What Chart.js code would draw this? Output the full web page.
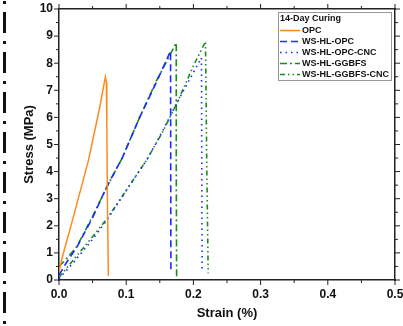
<!DOCTYPE html>
<html lang="en">
<head>
    <meta charset="UTF-8">
    <title>Stress-Strain 14-Day Curing</title>
    <script src="https://cdn.jsdelivr.net/npm/chart.js"></script>
    <style>
        body {
            margin: 0;
            background: white;
        }
        .wrap {
            position: relative;
            width: 403px;
            height: 326px;
        }
        /* dash-dot strip on the left edge */
        .strip {
            position: absolute;
            left: 3px;
            top: 0;
            width: 3px;
            height: 326px;
            background: repeating-linear-gradient(to bottom,
                transparent 0 1px, #111 1px 4px, transparent 4px 12px,
                #111 12px 33px, transparent 33px 40px);
        }
    </style>
</head>
<body>
<div class="wrap">
    <div class="strip"></div>
    <canvas id="stressChart" width="403" height="326"></canvas>
</div>

<script>
    // tick labels
    const xTicks = [0, 0.1, 0.2, 0.3, 0.4, 0.5];
    const yTicks = [0, 1, 2, 3, 4, 5, 6, 7, 8, 9, 10];

    // series (strain %, stress MPa)
    const opcStrain = [0, 0.005, 0.02, 0.044, 0.06, 0.069, 0.0705, 0.0712, 0.072, 0.0735];
    const opcStress = [0.3, 0.85, 2.2, 4.43, 6.3, 7.5, 7.3, 5.7, 3.0, 0.15];

    const hlOpcStrain = [0, 0.01, 0.027, 0.05, 0.071, 0.094, 0.12, 0.145, 0.166, 0.1662, 0.1665];
    const hlOpcStress = [0.18, 0.6, 1.23, 2.3, 3.44, 4.5, 6.0, 7.3, 8.45, 5.0, 0.3];

    const hlOpcCncStrain = [0, 0.02, 0.05, 0.071, 0.1, 0.131, 0.15, 0.17, 0.19, 0.212, 0.2125, 0.213];
    const hlOpcCncStress = [0.05, 0.6, 1.5, 2.2, 3.3, 4.45, 5.3, 6.27, 7.2, 8.2, 4.0, 0.3];

    const hlGgbfsStrain = [0, 0.01, 0.027, 0.05, 0.071, 0.094, 0.12, 0.145, 0.1745, 0.1745, 0.175];
    const hlGgbfsStress = [0.5, 0.75, 1.25, 2.35, 3.42, 4.5, 6.0, 7.35, 8.75, 4.0, 0.1];

    const hlGgbfsCncStrain = [0, 0.02, 0.05, 0.071, 0.1, 0.131, 0.155, 0.175, 0.2, 0.218, 0.22, 0.222];
    const hlGgbfsCncStress = [0.1, 0.7, 1.6, 2.25, 3.3, 4.45, 5.5, 6.5, 7.9, 8.8, 4.0, 0.25];

    const pts = (xs, ys) => xs.map((v, i) => ({ x: v, y: ys[i] }));

    const FONT = "'Liberation Sans', Arial, sans-serif";

    // fixed box sizes, no extra label padding around the plot
    const fixSize = (w, h) => s => {
        if (w != null) s.width = w;
        if (h != null) s.height = h;
        s.paddingLeft = s.paddingRight = s.paddingTop = s.paddingBottom = 0;
    };

    // outward major/minor ticks on all four sides
    const tickMarks = {
        id: 'tickMarks',
        afterDraw(chart) {
            const { ctx, chartArea: a, scales: { x, y } } = chart;
            ctx.save();
            ctx.strokeStyle = '#222';
            ctx.lineWidth = 1;
            const seg = (x1, y1, x2, y2) => {
                ctx.beginPath(); ctx.moveTo(x1, y1); ctx.lineTo(x2, y2); ctx.stroke();
            };
            xTicks.forEach((v, i) => {
                const px = x.getPixelForValue(v);
                seg(px, a.bottom, px, a.bottom + 5);
                seg(px, a.top, px, a.top - 5);
                if (i < xTicks.length - 1) {
                    const mx = x.getPixelForValue((v + xTicks[i + 1]) / 2);
                    seg(mx, a.bottom, mx, a.bottom + 3);
                    seg(mx, a.top, mx, a.top - 3);
                }
            });
            yTicks.forEach((v, i) => {
                const py = y.getPixelForValue(v);
                seg(a.left, py, a.left - 5, py);
                seg(a.right, py, a.right + 5, py);
                if (i < yTicks.length - 1) {
                    const my = y.getPixelForValue((v + yTicks[i + 1]) / 2);
                    seg(a.left, my, a.left - 3, my);
                    seg(a.right, my, a.right + 3, my);
                }
            });
            ctx.restore();
        }
    };

    // boxed legend with title, top right
    const boxLegend = {
        id: 'boxLegend',
        afterDraw(chart) {
            const ctx = chart.ctx;
            const left = 278, top = 12, w = 113, h = 68;
            ctx.save();
            ctx.fillStyle = 'white';
            ctx.fillRect(left, top, w, h);
            ctx.strokeStyle = '#999';
            ctx.lineWidth = 1;
            ctx.strokeRect(left + 0.5, top + 0.5, w, h);
            ctx.fillStyle = '#111';
            ctx.font = 'bold 9px ' + FONT;
            ctx.textBaseline = 'middle';
            ctx.fillText('14-Day Curing', 280, 19);
            chart.data.datasets.forEach((ds, i) => {
                const cy = 30.5 + i * 11;
                ctx.strokeStyle = ds.borderColor;
                ctx.lineWidth = 1.6;
                ctx.setLineDash(ds.borderDash || []);
                ctx.beginPath(); ctx.moveTo(280, cy); ctx.lineTo(300, cy); ctx.stroke();
                ctx.setLineDash([]);
                ctx.fillStyle = '#111';
                ctx.fillText(ds.label, 302, cy);
            });
            ctx.restore();
        }
    };

    const orange = '#ff8a1c';
    const blue = '#1a2cff';
    const green = '#1a8c1a';

    new Chart(document.getElementById('stressChart'), {
        type: 'line',
        data: {
            datasets: [
                { label: 'OPC', data: pts(opcStrain, opcStress), borderColor: orange, borderWidth: 1.5 },
                { label: 'WS-HL-OPC', data: pts(hlOpcStrain, hlOpcStress), borderColor: blue, borderWidth: 1.6, borderDash: [7, 4] },
                { label: 'WS-HL-OPC-CNC', data: pts(hlOpcCncStrain, hlOpcCncStress), borderColor: blue, borderWidth: 1.6, borderDash: [1.5, 4] },
                { label: 'WS-HL-GGBFS', data: pts(hlGgbfsStrain, hlGgbfsStress), borderColor: green, borderWidth: 1.6, borderDash: [7, 3, 2, 3] },
                { label: 'WS-HL-GGBFS-CNC', data: pts(hlGgbfsCncStrain, hlGgbfsCncStress), borderColor: green, borderWidth: 1.6, borderDash: [5, 3, 1.5, 3, 1.5, 3] }
            ]
        },
        options: {
            responsive: false,
            animation: false,
            layout: { padding: 0 },
            elements: { point: { radius: 0 }, line: { tension: 0 } },
            plugins: {
                legend: { display: false },
                tooltip: { enabled: false }
            },
            scales: {
                x: {
                    type: 'linear',
                    position: 'bottom',
                    min: 0, max: 0.5,
                    afterFit: fixSize(null, 46),
                    afterBuildTicks: s => { s.ticks = xTicks.map(v => ({ value: v })); },
                    ticks: {
                        color: '#111',
                        padding: 7,
                        maxRotation: 0,
                        font: { family: FONT, size: 12, weight: 'bold' },
                        callback: v => v.toFixed(1)
                    },
                    grid: { display: false, drawTicks: false },
                    border: { display: true, color: '#222', width: 1.5 },
                    title: {
                        display: true,
                        text: 'Strain (%)',
                        color: '#111',
                        padding: { bottom: 5 },
                        font: { family: FONT, size: 13, weight: 'bold' }
                    }
                },
                y: {
                    position: 'left',
                    min: 0, max: 10,
                    afterFit: fixSize(59, null),
                    afterBuildTicks: s => { s.ticks = yTicks.map(v => ({ value: v })); },
                    ticks: {
                        color: '#111',
                        padding: 6,
                        font: { family: FONT, size: 12, weight: 'bold' }
                    },
                    grid: { display: false, drawTicks: false },
                    border: { display: true, color: '#222', width: 1.5 },
                    title: {
                        display: true,
                        text: 'Stress (MPa)',
                        color: '#111',
                        padding: { top: 22 },
                        font: { family: FONT, size: 13, weight: 'bold' }
                    }
                },
                x2: {
                    type: 'linear',
                    position: 'top',
                    min: 0, max: 0.5,
                    afterFit: fixSize(null, 9),
                    ticks: { display: false },
                    grid: { display: false, drawTicks: false },
                    border: { display: true, color: '#222', width: 1.5 }
                },
                y2: {
                    position: 'right',
                    min: 0, max: 10,
                    afterFit: fixSize(8, null),
                    ticks: { display: false },
                    grid: { display: false, drawTicks: false },
                    border: { display: true, color: '#222', width: 1.5 }
                }
            }
        },
        plugins: [tickMarks, boxLegend]
    });
</script>
</body>
</html>
